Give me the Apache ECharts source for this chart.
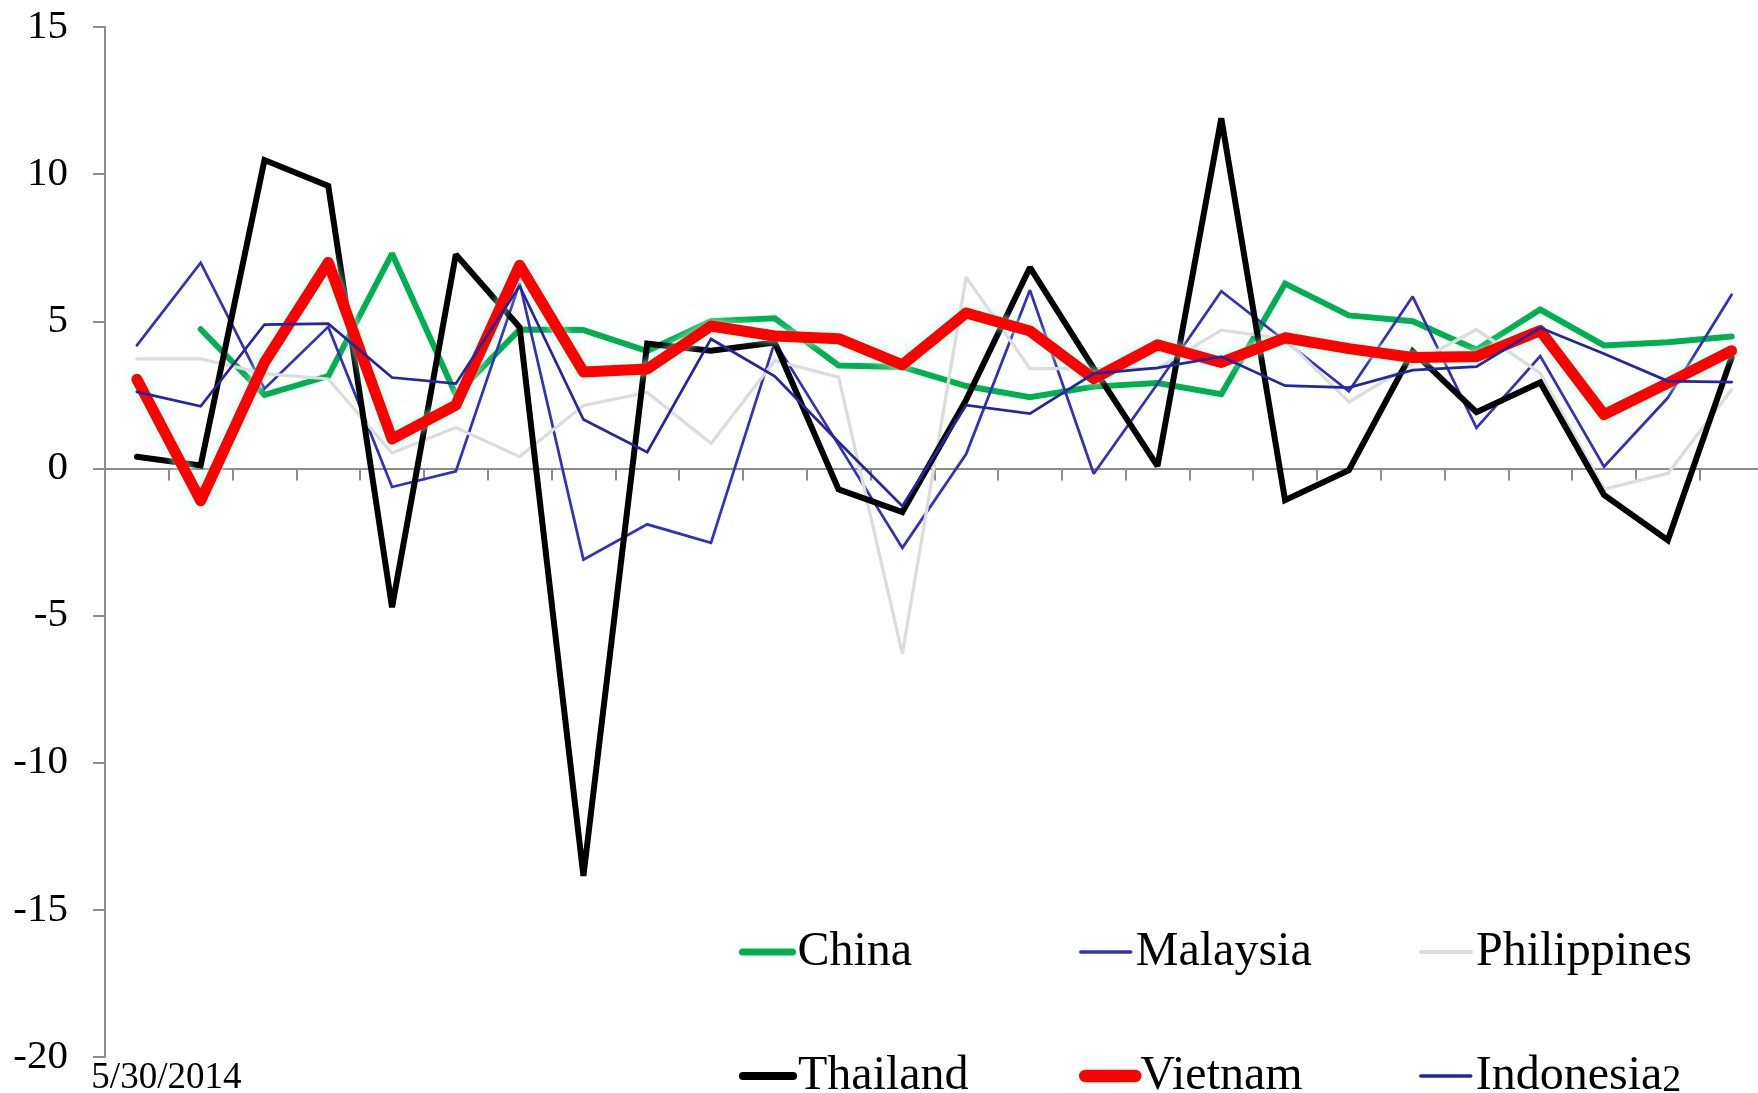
<!DOCTYPE html>
<html>
<head>
<meta charset="utf-8">
<title>Growth by country</title>
<script src="https://cdn.jsdelivr.net/npm/echarts@6/dist/echarts.min.js"></script>
<style>
  html, body { margin: 0; padding: 0; background: #fff; }
  #chart { width: 1758px; height: 1093px; }
</style>
</head>
<body>
<div id="chart"></div>
<script>
// Period index for each observation (26 periods); only the first carries a date label.
const periods = ['1','2','3','4','5','6','7','8','9','10','11','12','13','14','15','16','17','18','19','20','21','22','23','24','25','26'];
const periodLabels = ['5/30/2014'];

const yTicks = { min: -20, max: 15, step: 5 };

const china       = [null, 4.73, 2.5, 3.14, 7.3, 2.5, 4.72, 4.7, 3.99, 5.0, 5.1, 3.5, 3.45, 2.8, 2.42, 2.78, 2.9, 2.52, 6.28, 5.2, 5.0, 4.03, 5.4, 4.18, 4.29, 4.48];
const malaysia    = [4.18, 6.99, 2.71, 4.81, -0.63, -0.1, 6.3, -3.1, -1.9, -2.53, 4.3, 0.8, -2.7, 0.49, 6.06, -0.18, 2.88, 6.02, 4.33, 2.62, 5.84, 1.38, 3.82, 0.06, 2.4, 5.9];
const philippines = [3.72, 3.72, 3.22, 3.04, 0.52, 1.39, 0.4, 2.14, 2.58, 0.85, 3.66, 3.1, -6.3, 6.5, 3.39, 3.39, 3.4, 4.7, 4.4, 2.26, 3.55, 4.72, 3.24, -0.7, -0.17, 2.67];
const thailand    = [0.4, 0.1, 10.48, 9.6, -4.72, 7.27, 4.8, -13.85, 4.24, 4.0, 4.28, -0.71, -1.48, 2.33, 6.83, 3.4, 0.08, 11.9, -1.08, -0.06, 3.98, 1.91, 2.92, -0.9, -2.44, 3.77];
const vietnam     = [3.03, -1.1, 3.6, 7.0, 1.0, 2.15, 6.9, 3.28, 3.38, 4.84, 4.5, 4.41, 3.52, 5.28, 4.67, 3.05, 4.2, 3.6, 4.44, 4.07, 3.77, 3.8, 4.68, 1.83, 2.9, 4.0];
const indonesia2  = [2.6, 2.11, 4.89, 4.92, 3.09, 2.88, 6.2, 1.66, 0.55, 4.4, 3.13, 0.9, -1.28, 2.15, 1.86, 3.22, 3.42, 3.8, 2.81, 2.75, 3.34, 3.46, 4.78, 3.9, 2.97, 2.93];

const FONT = '"Liberation Serif", "Times New Roman", serif';
const AXIS_GREY = '#8c8c8c';

const seriesDefs = [
  { name: 'China',       data: china,       color: '#00b050', width: 6,    legendWidth: 7 },
  { name: 'Malaysia',    data: malaysia,    color: '#3232b8', width: 2.75, legendWidth: 3.5 },
  { name: 'Philippines', data: philippines, color: '#dcdcdc', width: 3.3,  legendWidth: 4 },
  { name: 'Thailand',    data: thailand,    color: '#000000', width: 6,    legendWidth: 8 },
  { name: 'Vietnam',     data: vietnam,     color: '#ff0000', width: 11,   legendWidth: 12.5, glow: true },
  { name: 'Indonesia2',  data: indonesia2,  color: '#25259e', width: 2.75, legendWidth: 3.5 }
];

const series = seriesDefs.map(d => ({
  name: d.name,
  type: 'line',
  data: d.data,
  symbol: 'none',
  smooth: false,
  connectNulls: false,
  animation: false,
  color: d.color,
  lineStyle: Object.assign({
    color: d.color,
    width: d.width,
    cap: 'round',
    join: d.glow ? 'round' : 'miter',
    miterLimit: 2
  }, d.glow ? { shadowColor: 'rgba(165,255,228,0.95)', shadowBlur: 8 } : {})
}));

// Trailing digits in a legend name are set a little smaller.
function legendText(name) {
  const m = name.match(/^(.*?)(\d+)$/);
  return m ? m[1] + '{small|' + m[2] + '}' : name;
}

// Legend laid out as a 3 x 2 block below the plot.
const legendCols = [739, 1079, 1419];
const legendRows = [928, 1052];
const legends = seriesDefs.map((d, i) => ({
  orient: 'horizontal',
  left: legendCols[i % 3],
  top: legendRows[Math.floor(i / 3)],
  padding: 0,
  itemWidth: 50,
  itemHeight: 48,
  selectedMode: false,
  itemStyle: { opacity: 0 },
  formatter: legendText,
  textStyle: {
    fontFamily: FONT, fontSize: 48, color: '#000', lineHeight: 48,
    rich: { small: { fontFamily: FONT, fontSize: 38, color: '#000', lineHeight: 48, verticalAlign: 'bottom', padding: [0, 0, 0, 0] } }
  },
  data: [{ name: d.name, lineStyle: { width: d.legendWidth, cap: 'round', color: d.color, shadowBlur: 0 } }]
}));

const chart = echarts.init(document.getElementById('chart'), null, { renderer: 'canvas' });
chart.setOption({
  backgroundColor: '#ffffff',
  animation: false,
  grid: { left: 105, right: -5.5, top: 27, bottom: 36, containLabel: false, outerBoundsMode: 'none' },
  legend: legends,
  xAxis: [
    {
      type: 'category',
      data: periods,
      boundaryGap: true,
      axisLine: { onZero: true, lineStyle: { color: AXIS_GREY, width: 2 } },
      axisTick: { show: true, interval: 0, length: 12, lineStyle: { color: AXIS_GREY, width: 2 } },
      axisLabel: { show: false },
      splitLine: { show: false }
    },
    {
      type: 'category',
      data: periods,
      position: 'bottom',
      boundaryGap: true,
      axisLine: { show: false, onZero: false },
      axisTick: { show: false },
      axisLabel: {
        interval: 0,
        margin: 3,
        fontFamily: FONT,
        fontSize: 37,
        color: '#000',
        padding: [0, 0, 0, 59],
        formatter: (v, i) => periodLabels[i] || ''
      },
      splitLine: { show: false }
    }
  ],
  yAxis: {
    type: 'value',
    min: yTicks.min,
    max: yTicks.max,
    interval: yTicks.step,
    axisLine: { show: true, onZero: false, lineStyle: { color: AXIS_GREY, width: 2 } },
    axisTick: { show: true, length: 12, lineStyle: { color: AXIS_GREY, width: 2 } },
    axisLabel: { fontFamily: FONT, fontSize: 41, color: '#000', margin: 37 },
    splitLine: { show: false }
  },
  series: series
});
</script>
</body>
</html>
